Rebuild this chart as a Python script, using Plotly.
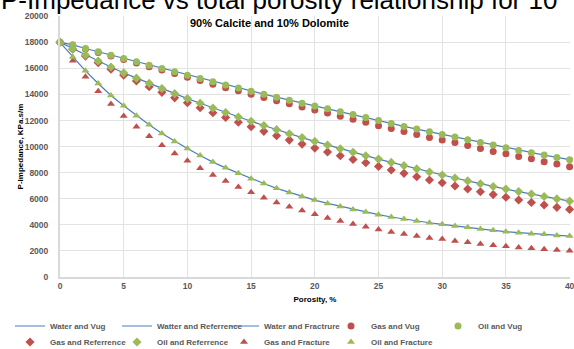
import plotly.graph_objects as go

porosity = list(range(0, 41))

water_vug = [18000, 17800, 17520, 17270, 17010, 16760, 16500, 16230, 15990, 15740,
             15480, 15230, 14970, 14720, 14500, 14250, 14020, 13790, 13560, 13330,
             13120, 12900, 12670, 12460, 12240, 12000, 11780, 11550, 11340, 11140,
             10930, 10730, 10520, 10320, 10120, 9910, 9710, 9530, 9350, 9170, 9000]
gas_vug = [18000, 17785, 17490, 17225, 16950, 16680, 16410, 16120, 15865, 15600,
           15325, 15060, 14785, 14520, 14285, 14020, 13770, 13525, 13280, 13035,
           12805, 12570, 12325, 12100, 11865, 11600, 11390, 11160, 10930, 10700,
           10500, 10310, 10090, 9860, 9630, 9450, 9250, 9070, 8840, 8660, 8450]
oil_vug = water_vug

water_ref = [18000, 17510, 17030, 16560, 16100, 15650, 15250, 14850, 14450, 14060,
             13680, 13320, 12960, 12610, 12270, 11940, 11620, 11300, 10990, 10690,
             10400, 10120, 9840, 9570, 9300, 9040, 8790, 8540, 8290, 8050,
             7820, 7590, 7370, 7150, 6940, 6740, 6550, 6360, 6170, 5990, 5820]
gas_ref = [18000, 17460, 16940, 16430, 15930, 15480, 15030, 14590, 14160, 13740,
           13360, 12980, 12600, 12240, 11870, 11520, 11170, 10830, 10500, 10190,
           9885, 9580, 9300, 9020, 8760, 8480, 8210, 7950, 7690, 7440,
           7230, 6980, 6750, 6540, 6320, 6110, 5910, 5710, 5520, 5340, 5185]
oil_ref = water_ref

water_frac = [18000, 16880, 15810, 14840, 13920, 13130, 12370, 11670, 11010, 10400,
              9850, 9320, 8810, 8370, 7960, 7530, 7170, 6800, 6480, 6180,
              5900, 5645, 5415, 5185, 4980, 4780, 4600, 4445, 4290, 4160,
              4036, 3910, 3806, 3680, 3580, 3475, 3400, 3320, 3270, 3190, 3140]
gas_frac = [18000, 16580, 15350, 14250, 13260, 12340, 11530, 10800, 10100, 9480,
            8910, 8330, 7820, 7360, 6900, 6490, 6080, 5720, 5390, 5100,
            4810, 4520, 4290, 4060, 3860, 3650, 3450, 3295, 3140, 2990,
            2910, 2760, 2660, 2530, 2430, 2350, 2270, 2200, 2120, 2070, 2020]
oil_frac = water_frac

x_ticks = [0, 5, 10, 15, 20, 25, 30, 35, 40]
y_ticks = list(range(0, 20001, 2000))

BLUE = "#4a7ebb"
RED = "#c0504d"
GREEN = "#9bbb59"
FONT = "Liberation Sans, Arial, sans-serif"

fig = go.Figure()

for name, ys in [("Water and Vug", water_vug),
                 ("Watter and Referrence", water_ref),
                 ("Water and Fractrure", water_frac)]:
    fig.add_trace(go.Scatter(x=porosity, y=ys, mode="lines", name=name, legend="legend",
                             line=dict(color=BLUE, width=1.2), cliponaxis=False))

marker_series = [
    ("Gas and Vug", gas_vug, RED, "circle", "legend"),
    ("Oil and Vug", oil_vug, GREEN, "circle", "legend"),
    ("Gas and Referrence", gas_ref, RED, "diamond", "legend2"),
    ("Oil and Referrence", oil_ref, GREEN, "diamond", "legend2"),
    ("Gas and Fracture", gas_frac, RED, "triangle-up", "legend2"),
    ("Oil and Fracture", oil_frac, GREEN, "triangle-up", "legend2"),
]
for name, ys, col, sym, lg in marker_series:
    fig.add_trace(go.Scatter(x=porosity, y=ys, mode="markers", name=name, legend=lg,
                             marker=dict(color=col, symbol=sym, size=7,
                                         line=dict(width=0)),
                             cliponaxis=False))

PL, PR, PT, PB = 60, 570, 16, 277

def px_x(p):
    return (p - PL) / (PR - PL)

def px_y(p):
    return (PB - p) / (PB - PT)

legend_common = dict(orientation="h", xref="paper", yref="paper",
                     xanchor="left", yanchor="middle",
                     entrywidth=62, entrywidthmode="pixels", itemwidth=30,
                     font=dict(family=FONT, size=8, color="#595959", weight="bold"),
                     bgcolor="rgba(0,0,0,0)")

fig.update_layout(
    width=574, height=349,
    margin=dict(l=PL, r=574 - PR, t=PT, b=349 - PB, autoexpand=False),
    paper_bgcolor="white", plot_bgcolor="white",
    font=dict(family=FONT, size=8, color="#595959", weight="bold"),
    annotations=[
        dict(text="P-Impedance vs total porosity relationship for 10",
             xref="paper", yref="paper", x=px_x(-1), y=px_y(17.5),
             xanchor="left", yanchor="bottom", showarrow=False,
             font=dict(family=FONT, size=26, color="#000000", weight="normal")),
        dict(text="90% Calcite and 10% Dolomite", xref="paper", yref="paper",
             x=px_x(269), y=px_y(23), xanchor="center", yanchor="middle",
             showarrow=False,
             font=dict(family=FONT, size=11, color="#000000", weight="bold")),
    ],
    legend=dict(x=px_x(10), y=px_y(326), **legend_common),
    legend2=dict(x=px_x(10), y=px_y(342), **legend_common),
)

fig.update_xaxes(range=[0, 40.03], tickvals=x_ticks, showgrid=True, gridcolor="#e3e3e3",
                 gridwidth=1, showline=True, linecolor="#d9d9d9", linewidth=2,
                 zeroline=False, ticks="", ticklabelstandoff=0,
                 ticklabeloverflow="allow", tickfont=dict(size=8.5),
                 title=dict(text="Porosity, %", standoff=6,
                            font=dict(family=FONT, size=8, color="#000000", weight="bold")))
fig.update_yaxes(range=[0, 20015], tickvals=y_ticks, tickformat="d", showgrid=True,
                 gridcolor="#e3e3e3",
                 gridwidth=1, showline=True, linecolor="#d9d9d9", linewidth=2,
                 zeroline=False, ticks="", ticklabelstandoff=8, tickfont=dict(size=8.5),
                 title=dict(text="P-Impedance, KPa.s/m", standoff=0,
                            font=dict(family=FONT, size=8, color="#000000", weight="bold")))

fig.write_html("out.html", config={"displayModeBar": False},
               post_script="document.body.style.margin='0';")
